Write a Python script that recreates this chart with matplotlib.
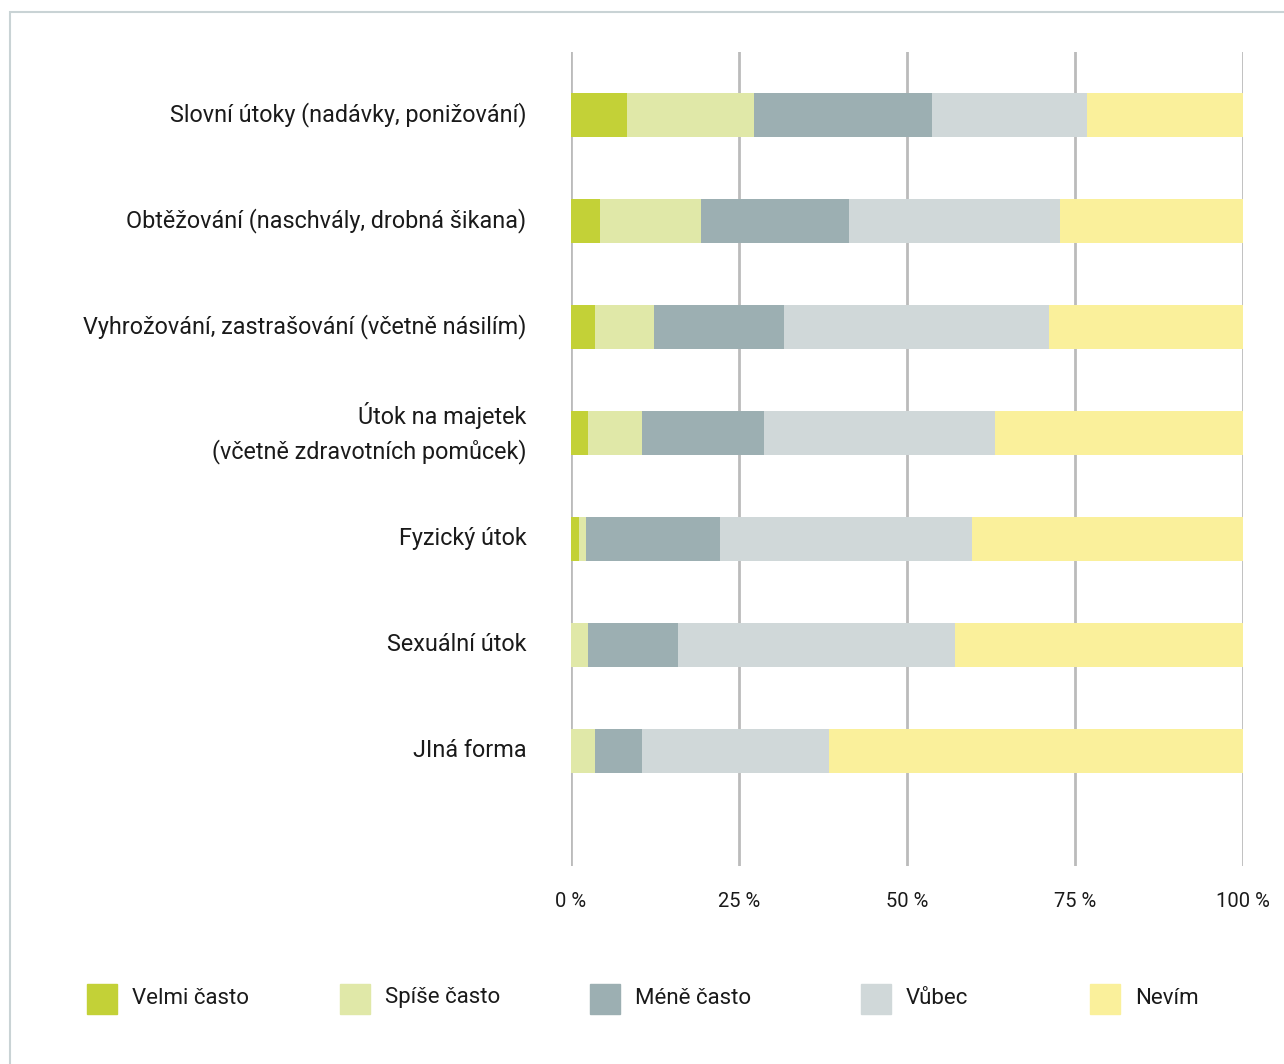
import matplotlib.pyplot as plt
from matplotlib.patches import Rectangle
import numpy as np

plt.rcParams['font.family'] = ['Roboto', 'DejaVu Sans']

categories = [
    'Slovní útoky (nadávky, ponižování)',
    'Obtěžování (naschvály, drobná šikana)',
    'Vyhrožování, zastrašování (včetně násilím)',
    'Útok na majetek\n(včetně zdravotních pomůcek)',
    'Fyzický útok',
    'Sexuální útok',
    'JIná forma',
]
series_names = ['Velmi často', 'Spíše často', 'Méně často', 'Vůbec', 'Nevím']
velmi = [8.3, 4.3, 3.6, 2.5, 1.2, 0.0, 0.0]
spise = [18.9, 15.0, 8.8, 8.0, 1.0, 2.5, 3.6]
mene = [26.5, 22.0, 19.3, 18.2, 19.9, 13.4, 7.0]
vubec = [23.1, 31.4, 39.4, 34.4, 37.5, 41.2, 27.8]
nevim = [23.2, 27.3, 28.9, 36.9, 40.4, 42.9, 61.6]
ticks = [0, 25, 50, 75, 100]
tick_labels = ['0 %', '25 %', '50 %', '75 %', '100 %']

colors = ['#C3D137', '#E0E8A8', '#9CAFB2', '#D0D8D9', '#FAF09B']

W, H = 1284, 1064
fig = plt.figure(figsize=(W / 100, H / 100), dpi=100)

# frame around the whole graphic
fig.add_artist(Rectangle((10 / W, -0.1), 1.2, 1 - 12 / H + 0.1,
                         transform=fig.transFigure, fill=False,
                         edgecolor='#C9D3D5', linewidth=1.5))

ax = fig.add_axes([571 / W, 1 - 866 / H, (1243 - 571) / W, (866 - 52) / H])
y = np.arange(len(categories))
left = np.zeros(len(categories))
for vals, c, name in zip([velmi, spise, mene, vubec, nevim], colors, series_names):
    ax.barh(y, vals, left=left, height=0.415, color=c, label=name, zorder=2)
    left += np.array(vals)

ax.set_xlim(0, 100)
ax.set_ylim(7.085, -0.594)
ax.set_xticks(ticks)
ax.set_xticklabels(tick_labels, fontsize=14.5, color='#1a1a1a')
ax.set_yticks(y)
ax.set_yticklabels(categories, fontsize=16.8, color='#1a1a1a', linespacing=1.55)
for t in ax.get_yticklabels():
    t.set_multialignment('right')
    t.set_va('center')
ax.tick_params(axis='x', length=0, pad=19)
ax.tick_params(axis='y', length=0, pad=32)
ax.grid(axis='x', color='#BBBBBB', linewidth=2, zorder=0)
for s in ax.spines.values():
    s.set_visible(False)

# legend
leg_x = [87, 340, 590, 861, 1090]
for lx, c, name in zip(leg_x, colors, series_names):
    fig.add_artist(Rectangle((lx / W, 1 - 1014 / H), 30 / W, 30 / H,
                             transform=fig.transFigure, color=c))
    fig.text((lx + 45) / W, 1 - 998 / H, name, fontsize=16, va='center',
             ha='left', color='#1a1a1a')

fig.savefig('out.png', dpi=100)
